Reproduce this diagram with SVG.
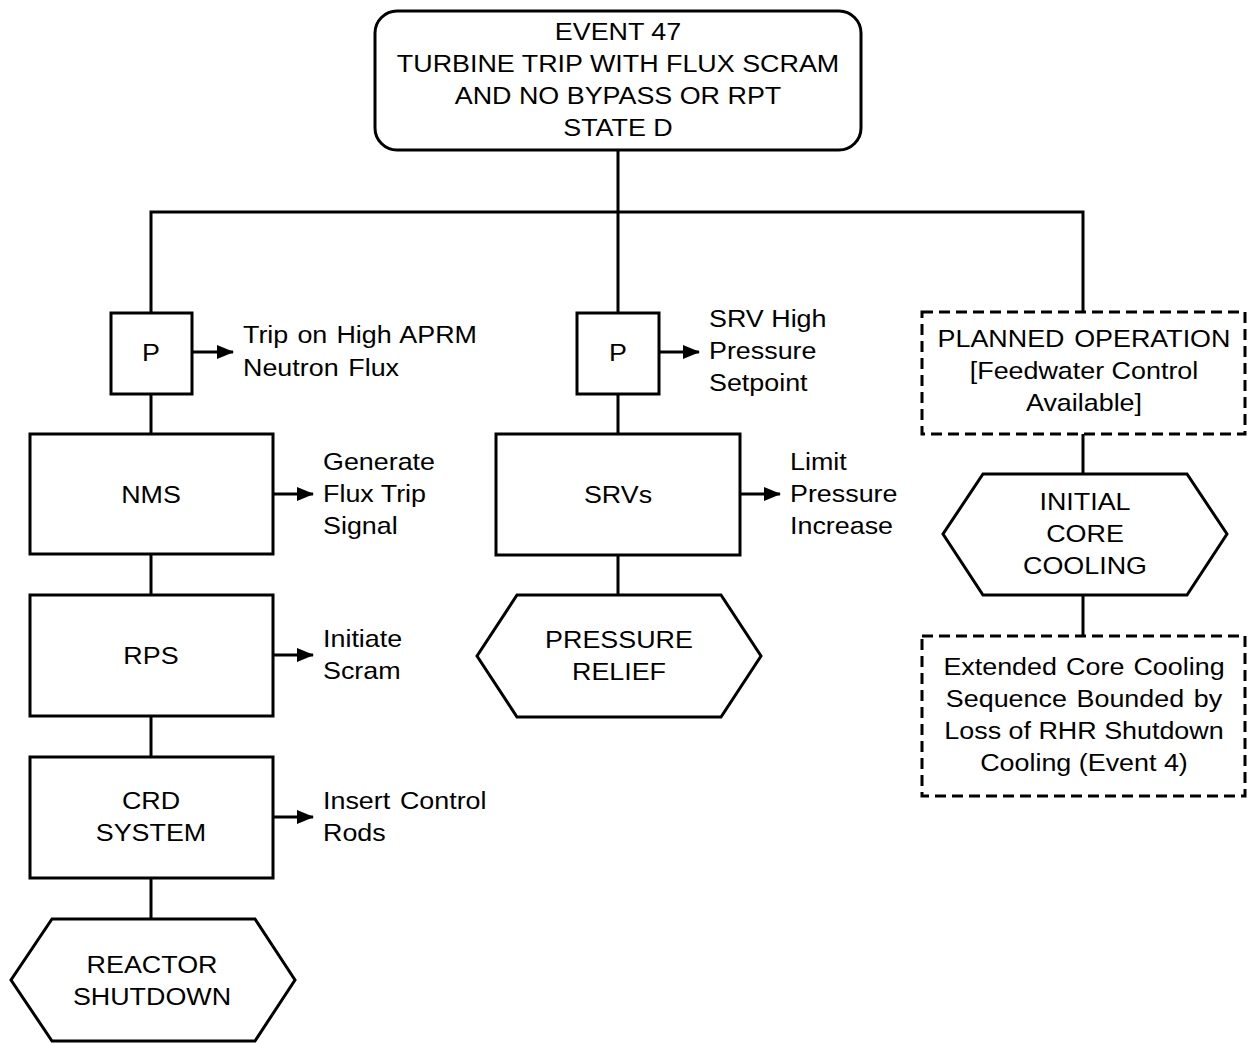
<svg xmlns="http://www.w3.org/2000/svg" width="1254" height="1043" viewBox="0 0 1254 1043">
  <defs>
    <marker id="arrow" viewBox="0 0 17 14" refX="16" refY="7" markerWidth="17" markerHeight="14" markerUnits="userSpaceOnUse" orient="auto">
      <path d="M0,0 L17,7 L0,14 z" fill="#000"/>
    </marker>
  </defs>
  <style>
    .shape { fill: #fff; stroke: #000; stroke-width: 3; }
    .dashed { fill: #fff; stroke: #000; stroke-width: 3; stroke-dasharray: 11 6; }
    .line { fill: none; stroke: #000; stroke-width: 3; }
    .arr { fill: none; stroke: #000; stroke-width: 3; marker-end: url(#arrow); }
    text { font-family: "Liberation Sans", Arial, sans-serif; font-size: 24px; fill: #000; }
    .c { text-anchor: middle; }
  </style>
  <rect width="1254" height="1043" fill="#fff"/>

  <!-- connectors -->
  <g id="connectors">
    <path class="line" d="M618,150 V212 M151,313 V212 H1083 V313 M618,212 V313"/>
    <path class="line" d="M151,394 V434 M151,554 V595 M151,716 V757 M151,878 V919"/>
    <path class="line" d="M618,394 V434 M618,555 V595"/>
    <path class="line" d="M1083,434 V474 M1083,595 V636"/>
    <path class="arr" d="M192,352 H233"/>
    <path class="arr" d="M273,494 H313"/>
    <path class="arr" d="M273,655 H313"/>
    <path class="arr" d="M273,817 H313"/>
    <path class="arr" d="M659,352 H699"/>
    <path class="arr" d="M740,494 H780"/>
  </g>

  <!-- text is drawn in a slightly widened face: scale(1.12,1) about each anchor -->
  <g id="event">
    <rect class="shape" x="375" y="11" width="486" height="139" rx="22"/>
    <text class="c" transform="translate(618 40) scale(1.12 1)">EVENT 47</text>
    <text class="c" transform="translate(618 72) scale(1.12 1)">TURBINE TRIP WITH FLUX SCRAM</text>
    <text class="c" transform="translate(618 104) scale(1.12 1)">AND NO BYPASS OR RPT</text>
    <text class="c" transform="translate(618 136) scale(1.12 1)">STATE D</text>
  </g>

  <g id="p-flux">
    <rect class="shape" x="111" y="313" width="81" height="81"/>
    <text class="c" transform="translate(151 361) scale(1.12 1)">P</text>
    <text transform="translate(243 343) scale(1.12 1)" word-spacing="1.5">Trip on High APRM</text>
    <text transform="translate(243 376) scale(1.12 1)" word-spacing="2">Neutron Flux</text>
  </g>

  <g id="nms">
    <rect class="shape" x="30" y="434" width="243" height="120"/>
    <text class="c" transform="translate(151 503) scale(1.12 1)">NMS</text>
    <text transform="translate(323 470) scale(1.12 1)">Generate</text>
    <text transform="translate(323 502) scale(1.12 1)">Flux Trip</text>
    <text transform="translate(323 534) scale(1.12 1)">Signal</text>
  </g>

  <g id="rps">
    <rect class="shape" x="30" y="595" width="243" height="121"/>
    <text class="c" transform="translate(151 664) scale(1.12 1)">RPS</text>
    <text transform="translate(323 647) scale(1.12 1)">Initiate</text>
    <text transform="translate(323 679) scale(1.12 1)">Scram</text>
  </g>

  <g id="crd">
    <rect class="shape" x="30" y="757" width="243" height="121"/>
    <text class="c" transform="translate(151 809) scale(1.12 1)">CRD</text>
    <text class="c" transform="translate(151 841) scale(1.12 1)">SYSTEM</text>
    <text transform="translate(323 809) scale(1.12 1)" word-spacing="2">Insert Control</text>
    <text transform="translate(323 841) scale(1.12 1)">Rods</text>
  </g>

  <g id="reactor-shutdown">
    <polygon class="shape" points="52,919 255,919 295,980 255,1041 52,1041 11,980"/>
    <text class="c" transform="translate(152 973) scale(1.12 1)">REACTOR</text>
    <text class="c" transform="translate(152 1005) scale(1.12 1)">SHUTDOWN</text>
  </g>

  <g id="p-srv">
    <rect class="shape" x="577" y="313" width="82" height="81"/>
    <text class="c" transform="translate(618 361) scale(1.12 1)">P</text>
    <text transform="translate(709 327) scale(1.12 1)">SRV High</text>
    <text transform="translate(709 359) scale(1.12 1)">Pressure</text>
    <text transform="translate(709 391) scale(1.12 1)">Setpoint</text>
  </g>

  <g id="srvs">
    <rect class="shape" x="496" y="434" width="244" height="121"/>
    <text class="c" transform="translate(618 503) scale(1.12 1)">SRVs</text>
    <text transform="translate(790 470) scale(1.12 1)">Limit</text>
    <text transform="translate(790 502) scale(1.12 1)">Pressure</text>
    <text transform="translate(790 534) scale(1.12 1)">Increase</text>
  </g>

  <g id="pressure-relief">
    <polygon class="shape" points="517,595 721,595 761,656 721,717 517,717 477,656"/>
    <text class="c" transform="translate(619 648) scale(1.12 1)">PRESSURE</text>
    <text class="c" transform="translate(619 680) scale(1.12 1)">RELIEF</text>
  </g>

  <g id="planned-operation">
    <rect class="dashed" x="922" y="312" width="323" height="122"/>
    <text class="c" transform="translate(1084 347) scale(1.12 1)" word-spacing="2">PLANNED OPERATION</text>
    <text class="c" transform="translate(1084 379) scale(1.12 1)">[Feedwater Control</text>
    <text class="c" transform="translate(1084 411) scale(1.12 1)">Available]</text>
  </g>

  <g id="initial-core-cooling">
    <polygon class="shape" points="983,474 1187,474 1227,534 1187,595 983,595 943,534"/>
    <text class="c" transform="translate(1085 510) scale(1.12 1)">INITIAL</text>
    <text class="c" transform="translate(1085 542) scale(1.12 1)">CORE</text>
    <text class="c" transform="translate(1085 574) scale(1.12 1)">COOLING</text>
  </g>

  <g id="extended-core-cooling">
    <rect class="dashed" x="922" y="636" width="323" height="160"/>
    <text class="c" transform="translate(1084 675) scale(1.12 1)" word-spacing="1.5">Extended Core Cooling</text>
    <text class="c" transform="translate(1084 707) scale(1.12 1)" word-spacing="2">Sequence Bounded by</text>
    <text class="c" transform="translate(1084 739) scale(1.12 1)">Loss of RHR Shutdown</text>
    <text class="c" transform="translate(1084 771) scale(1.12 1)">Cooling (Event 4)</text>
  </g>
</svg>
